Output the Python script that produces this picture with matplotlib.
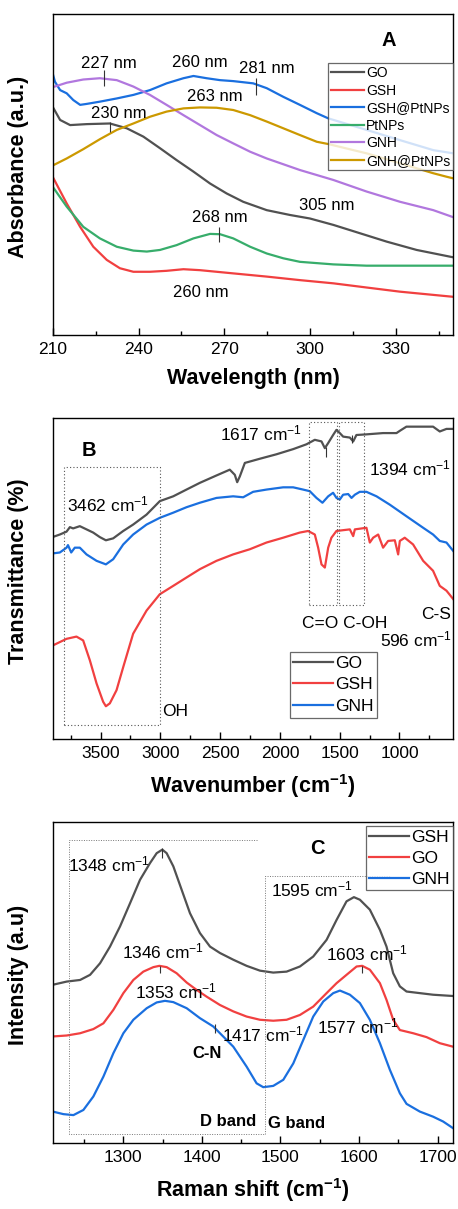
import matplotlib
matplotlib.use("Agg")
import matplotlib.pyplot as plt
from matplotlib.ticker import MultipleLocator

plt.rcParams["font.family"] = ["Liberation Sans", "DejaVu Sans"]
plt.rcParams["mathtext.default"] = "regular"

# Origin "Bold" palette
COLORS = {
    "GO": "#515151",
    "GSH": "#F14040",
    "GSH@PtNPs": "#1A6FDF",
    "PtNPs": "#37AD6B",
    "GNH": "#B177DE",
    "GNH@PtNPs": "#CC9900",
}

# ---------------- panel A: UV-vis ----------------
uv_go_x = [210, 212.6, 216.1, 221.9, 230, 235.9, 241.7, 247.5, 253.3, 259.2, 265, 270.8,
           276.6, 284.8, 292.9, 299.9, 308.1, 317.4, 326.7, 337.2, 350]
uv_go_y = [0.711, 0.670, 0.654, 0.657, 0.659, 0.644, 0.618, 0.582, 0.545, 0.509, 0.472, 0.441,
           0.415, 0.389, 0.374, 0.363, 0.343, 0.317, 0.291, 0.265, 0.242]
uv_gsh_x = [210, 214.9, 219.6, 224.2, 228.9, 233.5, 238.2, 244.0, 249.8, 255.7, 261.5, 267.3,
            273.1, 284.8, 296.4, 308.1, 319.7, 331.4, 350]
uv_gsh_y = [0.493, 0.410, 0.337, 0.275, 0.234, 0.208, 0.197, 0.197, 0.200, 0.205, 0.202, 0.197,
            0.192, 0.182, 0.171, 0.161, 0.148, 0.135, 0.119]
uv_gshpt_x = [210, 210.8, 212.6, 214.9, 217.2, 219.6, 221.9, 226.5, 232.4, 238.2, 244, 249.8,
              255.7, 259.2, 263.8, 268.5, 273.1, 280.1, 284.8, 290.6, 296.4, 302.3, 306.3,
              319.7, 331.4, 343, 350]
uv_gshpt_y = [0.815, 0.789, 0.763, 0.753, 0.732, 0.717, 0.720, 0.727, 0.737, 0.748, 0.763, 0.784,
              0.800, 0.807, 0.800, 0.794, 0.791, 0.784, 0.769, 0.742, 0.717, 0.691, 0.675,
              0.639, 0.607, 0.576, 0.566]
uv_pt_x = [210, 214.9, 220.7, 226.5, 232.4, 238.2, 242.9, 247.5, 253.3, 259.2, 265, 268.5,
           273.1, 279, 284.8, 290.6, 296.4, 308.1, 319.7, 350]
uv_pt_y = [0.462, 0.400, 0.337, 0.301, 0.275, 0.263, 0.260, 0.265, 0.280, 0.301, 0.315, 0.314,
           0.301, 0.275, 0.254, 0.239, 0.228, 0.220, 0.216, 0.216]
uv_gnh_x = [210, 214.9, 220.7, 226.5, 232.4, 238.2, 244, 249.8, 255.7, 261.5, 267.3, 273.1,
            279, 284.8, 296.4, 308.1, 319.7, 331.4, 343, 350]
uv_gnh_y = [0.772, 0.786, 0.796, 0.800, 0.794, 0.774, 0.748, 0.717, 0.685, 0.654, 0.623, 0.597,
            0.571, 0.550, 0.514, 0.483, 0.447, 0.415, 0.389, 0.367]
uv_gnhpt_x = [210, 214.9, 220.7, 226.5, 232.4, 238.2, 244, 249.8, 255.7, 261.5, 267.3, 273.1,
              279, 284.8, 290.6, 296.4, 302.3, 306.3, 319.7, 331.4, 343, 347.7, 350]
uv_gnhpt_y = [0.528, 0.550, 0.579, 0.610, 0.639, 0.659, 0.680, 0.696, 0.706, 0.709, 0.708, 0.701,
              0.685, 0.665, 0.644, 0.623, 0.602, 0.595, 0.566, 0.535, 0.504, 0.493, 0.488]

uv_peaks = [228, 281, 230, 268]
uv_peak_lo = [0.776, 0.748, 0.633, 0.291]
uv_peak_hi = [0.826, 0.800, 0.665, 0.337]
uv_labels = ["227 nm", "260 nm", "281 nm", "263 nm", "230 nm", "305 nm", "268 nm", "260 nm"]
uv_label_x = [229.5, 261.5, 284.8, 266.7, 233, 305.8, 268.5, 261.8]
uv_label_y = [0.846, 0.848, 0.831, 0.742, 0.690, 0.405, 0.367, 0.133]

# ---------------- panel B: FTIR ----------------
ir_go_x = [3901, 3840, 3784, 3756, 3729, 3673, 3617, 3561, 3506, 3455, 3394, 3310, 3227, 3115,
           3004, 2892, 2781, 2669, 2530, 2419, 2377, 2357, 2335, 2293, 2168, 2028, 1889, 1778,
           1708, 1652, 1624, 1596, 1555, 1527, 1499, 1471, 1415, 1387, 1360, 1276, 1137, 1025,
           997, 942, 719, 663, 607, 551]
ir_go_y = [0.630, 0.638, 0.647, 0.661, 0.657, 0.664, 0.654, 0.644, 0.630, 0.620, 0.626, 0.649,
           0.669, 0.700, 0.742, 0.757, 0.778, 0.799, 0.822, 0.840, 0.824, 0.801, 0.819, 0.861,
           0.874, 0.888, 0.904, 0.919, 0.933, 0.928, 0.907, 0.923, 0.948, 0.964, 0.954, 0.943,
           0.940, 0.928, 0.948, 0.950, 0.954, 0.954, 0.961, 0.974, 0.974, 0.959, 0.967, 0.967]
ir_gnh_x = [3901, 3840, 3784, 3772, 3745, 3715, 3673, 3617, 3533, 3455, 3394, 3310, 3227, 3115,
            3004, 2892, 2781, 2669, 2530, 2391, 2307, 2224, 2112, 1973, 1889, 1806, 1750, 1694,
            1644, 1596, 1555, 1527, 1499, 1471, 1429, 1401, 1373, 1332, 1276, 1192, 1081, 942,
            802, 719, 663, 607, 551]
ir_gnh_y = [0.579, 0.582, 0.597, 0.605, 0.582, 0.597, 0.597, 0.576, 0.556, 0.545, 0.561, 0.607,
            0.638, 0.669, 0.690, 0.706, 0.723, 0.737, 0.752, 0.757, 0.754, 0.771, 0.778, 0.785,
            0.785, 0.778, 0.773, 0.752, 0.737, 0.757, 0.768, 0.752, 0.747, 0.762, 0.764, 0.752,
            0.762, 0.771, 0.771, 0.757, 0.731, 0.695, 0.659, 0.638, 0.618, 0.613, 0.587]
ir_gsh_x = [3901, 3784, 3701, 3645, 3589, 3533, 3478, 3455, 3422, 3366, 3310, 3227, 3115, 3004,
            2892, 2781, 2669, 2530, 2391, 2252, 2112, 1973, 1834, 1764, 1708, 1680, 1652, 1624,
            1596, 1569, 1527, 1415, 1387, 1373, 1276, 1248, 1220, 1178, 1137, 1095, 1039, 1011,
            997, 956, 886, 802, 719, 663, 607, 551]
ir_gsh_y = [0.292, 0.313, 0.320, 0.308, 0.246, 0.174, 0.117, 0.103, 0.112, 0.153, 0.225, 0.329,
            0.401, 0.452, 0.478, 0.504, 0.530, 0.556, 0.576, 0.592, 0.613, 0.628, 0.644, 0.649,
            0.638, 0.597, 0.545, 0.535, 0.597, 0.628, 0.649, 0.654, 0.633, 0.654, 0.659, 0.613,
            0.628, 0.638, 0.597, 0.618, 0.620, 0.576, 0.618, 0.628, 0.607, 0.556, 0.525, 0.478,
            0.463, 0.437]

ir_peaks = [1617, 1394]
ir_peak_lo = [0.881, 0.923]
ir_peak_hi = [0.912, 0.948]
ir_boxes_x = [(3807, 3004), (1758, 1521), (1505, 1298)]
ir_boxes_y = [(0.044, 0.847), (0.419, 0.988), (0.419, 0.988)]
ir_labels = ["1617 cm$^{-1}$", "3462 cm$^{-1}$", "1394 cm$^{-1}$", "C=O C-OH", "C-S",
             "596 cm$^{-1}$", "OH"]
ir_label_x = [2154, 3436, 914, 1457, 691, 858, 2878]
ir_label_y = [0.954, 0.731, 0.845, 0.362, 0.390, 0.310, 0.086]

# ---------------- panel C: Raman ----------------
ra_gsh_x = [1210.1, 1227.9, 1244.9, 1257.6, 1270.3, 1283, 1295.8, 1308.5, 1321.2, 1333.9, 1342.4,
            1349.6, 1355.1, 1363.6, 1374.2, 1384.8, 1397.5, 1410.3, 1423, 1440, 1456.9, 1473.9,
            1490.8, 1507.8, 1524.8, 1541.7, 1558.7, 1571.4, 1584.1, 1593.5, 1601.1, 1613.8,
            1626.6, 1635, 1643.5, 1652, 1660.5, 1677.4, 1694.4, 1719.9]
ra_gsh_y = [0.494, 0.504, 0.509, 0.525, 0.561, 0.613, 0.676, 0.748, 0.821, 0.873, 0.904,
            0.915, 0.904, 0.863, 0.790, 0.717, 0.655, 0.613, 0.593, 0.572, 0.553, 0.538,
            0.532, 0.535, 0.551, 0.582, 0.634, 0.696, 0.754, 0.767, 0.759, 0.728,
            0.665, 0.613, 0.530, 0.489, 0.473, 0.468, 0.463, 0.459]
ra_go_x = [1210.1, 1227.9, 1244.9, 1261.8, 1274.6, 1287.3, 1300, 1312.7, 1325.4, 1338.2, 1345.8,
           1355.1, 1367.8, 1380.6, 1393.3, 1406, 1423, 1440, 1456.9, 1473.9, 1490.8, 1507.8,
           1524.8, 1541.7, 1558.7, 1571.4, 1584.1, 1596.9, 1604.1, 1613.8, 1626.6, 1635, 1643.5,
           1652, 1669, 1685.9, 1702.9, 1719.9]
ra_go_y = [0.333, 0.336, 0.343, 0.356, 0.374, 0.416, 0.468, 0.509, 0.535, 0.549, 0.553,
           0.549, 0.530, 0.501, 0.478, 0.457, 0.431, 0.411, 0.395, 0.385, 0.382, 0.385,
           0.400, 0.426, 0.468, 0.499, 0.525, 0.551, 0.553, 0.541, 0.499, 0.447, 0.385,
           0.353, 0.343, 0.331, 0.312, 0.301]
ra_gnh_x = [1210.1, 1223.7, 1236.4, 1249.1, 1261.8, 1274.6, 1287.3, 1300, 1312.7, 1329.7, 1342.4,
            1353, 1363.6, 1380.6, 1397.5, 1414.5, 1423, 1440, 1456.9, 1469.6, 1478.1, 1490.8,
            1503.6, 1516.3, 1529, 1541.7, 1554.5, 1567.2, 1575.7, 1588.4, 1601.1, 1613.8,
            1626.6, 1639.3, 1652, 1660.5, 1677.4, 1694.4, 1707.1, 1719.9]
ra_gnh_y = [0.099, 0.091, 0.088, 0.104, 0.146, 0.208, 0.281, 0.343, 0.385, 0.421, 0.439,
            0.444, 0.440, 0.421, 0.390, 0.364, 0.343, 0.301, 0.239, 0.187, 0.175, 0.179,
            0.198, 0.249, 0.322, 0.395, 0.442, 0.468, 0.476, 0.463, 0.437, 0.385,
            0.312, 0.229, 0.156, 0.123, 0.099, 0.083, 0.068, 0.047]

ra_peaks = [1349, 1346, 1417, 1604]
ra_peak_lo = [0.889, 0.530, 0.343, 0.530]
ra_peak_hi = [0.920, 0.551, 0.372, 0.551]
ra_labels = ["1348 cm$^{-1}$", "1346 cm$^{-1}$", "1353 cm$^{-1}$", "1417 cm$^{-1}$",
             "1595 cm$^{-1}$", "1603 cm$^{-1}$", "1577 cm$^{-1}$"]
ra_label_x = [1282, 1350, 1367, 1478, 1539.6, 1609.6, 1599]
ra_label_y = [0.868, 0.598, 0.473, 0.338, 0.790, 0.593, 0.364]
ra_bold_labels = ["C-N", "D band", "G band"]
ra_bold_x = [1406, 1433.6, 1520.5]
ra_bold_y = [0.279, 0.068, 0.062]

LW = 1.6
ANN = 12


def style_axes(ax, xlabel, ylabel, xlim, major, minor):
    ax.set_xlim(*xlim)
    ax.set_ylim(0, 1)
    ax.set_yticks([])
    ax.xaxis.set_major_locator(MultipleLocator(major))
    ax.xaxis.set_minor_locator(MultipleLocator(minor))
    ax.tick_params(axis="x", which="major", direction="in", length=5, width=1,
                   labelsize=12.5, pad=5)
    ax.tick_params(axis="x", which="minor", direction="in", length=3, width=1)
    for s in ax.spines.values():
        s.set_linewidth(1.0)
    ax.set_xlabel(xlabel, fontsize=15.5, fontweight="bold", labelpad=8)
    ax.set_ylabel(ylabel, fontsize=15.5, fontweight="bold")
    ax.yaxis.set_label_coords(-0.06, 0.525)


def make_legend(ax, anchor, fs, rows_sp, hlen):
    leg = ax.legend(loc="upper left", bbox_to_anchor=anchor, borderaxespad=0,
                    fontsize=fs, frameon=True, fancybox=False, handlelength=hlen,
                    handletextpad=0.1, labelspacing=rows_sp, borderpad=0.2)
    leg.get_frame().set_edgecolor("#444444")
    leg.get_frame().set_linewidth(0.9)
    return leg


fig = plt.figure(figsize=(4.58, 12.09), dpi=100)
left, width, height = 0.115, 0.8747, 0.2655

# ---- A ----
axA = fig.add_axes([left, 0.7229, width, height])
axA.plot(uv_go_x, uv_go_y, color=COLORS["GO"], lw=LW, label="GO")
axA.plot(uv_gsh_x, uv_gsh_y, color=COLORS["GSH"], lw=LW, label="GSH")
axA.plot(uv_gshpt_x, uv_gshpt_y, color=COLORS["GSH@PtNPs"], lw=LW, label="GSH@PtNPs")
axA.plot(uv_pt_x, uv_pt_y, color=COLORS["PtNPs"], lw=LW, label="PtNPs")
axA.plot(uv_gnh_x, uv_gnh_y, color=COLORS["GNH"], lw=LW, label="GNH")
axA.plot(uv_gnhpt_x, uv_gnhpt_y, color=COLORS["GNH@PtNPs"], lw=LW, label="GNH@PtNPs")
axA.vlines(uv_peaks, uv_peak_lo, uv_peak_hi, color="#333333", lw=0.8)
for t, x, y in zip(uv_labels, uv_label_x, uv_label_y):
    axA.text(x, y, t, ha="center", va="center", fontsize=ANN)
axA.text(327.3, 0.919, "A", ha="center", va="center", fontsize=14.5, fontweight="bold")
style_axes(axA, "Wavelength (nm)", "Absorbance (a.u.)", (210, 350), 30, 15)
make_legend(axA, (0.688, 0.846), 10, 0.25, 2.4)

# ---- B ----
axB = fig.add_axes([left, 0.3885, width, height])
axB.plot(ir_go_x, ir_go_y, color=COLORS["GO"], lw=LW, label="GO")
axB.plot(ir_gsh_x, ir_gsh_y, color=COLORS["GSH"], lw=LW, label="GSH")
axB.plot(ir_gnh_x, ir_gnh_y, color=COLORS["GSH@PtNPs"], lw=LW, label="GNH")
for (x0, x1), (y0, y1) in zip(ir_boxes_x, ir_boxes_y):
    axB.plot([x0, x1, x1, x0, x0], [y0, y0, y1, y1, y0], color="#555555",
             lw=0.8, ls=(0, (1, 2)))
axB.vlines(ir_peaks, ir_peak_lo, ir_peak_hi, color="#333333", lw=0.8)
for t, x, y in zip(ir_labels, ir_label_x, ir_label_y):
    axB.text(x, y, t, ha="center", va="center", fontsize=ANN + 0.5)
axB.text(3595, 0.900, "B", ha="center", va="center", fontsize=14.5, fontweight="bold")
style_axes(axB, "Wavenumber (cm$^{-1}$)", "Transmittance (%)", (3900, 550), 500, 250)
make_legend(axB, (0.592, 0.272), 12.5, 0.38, 2.3)

# ---- C ----
axC = fig.add_axes([left, 0.0543, width, height])
axC.plot(ra_gsh_x, ra_gsh_y, color=COLORS["GO"], lw=LW, label="GSH")
axC.plot(ra_go_x, ra_go_y, color=COLORS["GSH"], lw=LW, label="GO")
axC.plot(ra_gnh_x, ra_gnh_y, color=COLORS["GSH@PtNPs"], lw=LW, label="GNH")
dot = dict(color="#777777", lw=0.7, ls=(0, (1, 1.5)))
axC.plot([1470, 1231, 1231, 1480], [0.946, 0.946, 0.028, 0.028], **dot)
axC.plot([1480, 1480, 1640], [0.028, 0.834, 0.834], **dot)
axC.vlines(ra_peaks, ra_peak_lo, ra_peak_hi, color="#333333", lw=0.8)
for t, x, y in zip(ra_labels, ra_label_x, ra_label_y):
    axC.text(x, y, t, ha="center", va="center", fontsize=ANN + 0.5)
for t, x, y in zip(ra_bold_labels, ra_bold_x, ra_bold_y):
    axC.text(x, y, t, ha="center", va="center", fontsize=ANN, fontweight="bold")
axC.text(1546.8, 0.920, "C", ha="center", va="center", fontsize=14.5, fontweight="bold")
style_axes(axC, "Raman shift (cm$^{-1}$)", "Intensity (a.u)", (1210, 1720), 100, 50)
make_legend(axC, (0.782, 0.988), 12.5, 0.33, 2.3)

fig.savefig("out.png", dpi=100)
